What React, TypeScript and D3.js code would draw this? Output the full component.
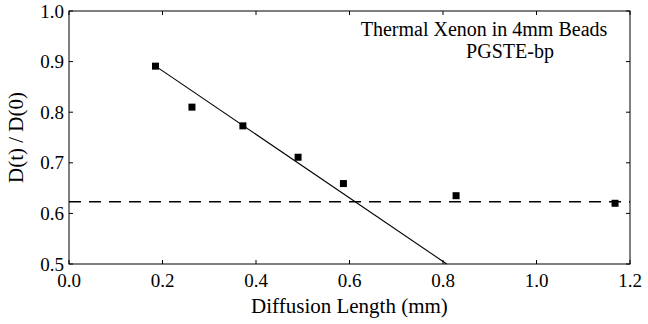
import React from "react";
import * as d3 from "d3";

const xValues = [0.185, 0.263, 0.372, 0.49, 0.587, 0.828, 1.168];
const yValues = [0.891, 0.81, 0.773, 0.711, 0.659, 0.635, 0.62];
const fitLine = [
  { x: 0.182, y: 0.893 },
  { x: 0.808, y: 0.5 },
];
const plateau = 0.623;
const xTicks = [0, 0.2, 0.4, 0.6, 0.8, 1.0, 1.2];
const yTicks = [0.5, 0.6, 0.7, 0.8, 0.9, 1.0];
const titleLines = ["Thermal Xenon in 4mm Beads", "PGSTE-bp"];

const W = 648;
const H = 324;
const M = { left: 69, right: 18, top: 11, bottom: 60 };
const FONT = "Liberation Serif, Times New Roman, serif";

export default function App() {
  const x = d3.scaleLinear().domain([0, 1.2]).range([M.left, W - M.right]);
  const y = d3.scaleLinear().domain([0.5, 1.0]).range([H - M.bottom, M.top]);
  const line = d3
    .line<{ x: number; y: number }>()
    .x((d) => x(d.x))
    .y((d) => y(d.y));
  const tl = 4;
  const x0 = x(0), x1 = x(1.2), y0 = y(0.5), y1 = y(1.0);
  return (
    <svg
      width={W}
      height={H}
      style={{ position: "absolute", left: 0, top: 0, background: "#fff", fontFamily: FONT }}
    >
      <rect x={x0} y={y1} width={x1 - x0} height={y0 - y1} fill="none" stroke="#000" strokeWidth={1} />
      {xTicks.map((t) => (
        <g key={"x" + t}>
          <line x1={x(t)} x2={x(t)} y1={y0} y2={y0 - tl} stroke="#000" />
          <line x1={x(t)} x2={x(t)} y1={y1} y2={y1 + tl} stroke="#000" />
          <text x={x(t)} y={y0 + 23} textAnchor="middle" fontSize={19}>
            {t.toFixed(1)}
          </text>
        </g>
      ))}
      {yTicks.map((t) => (
        <g key={"y" + t}>
          <line x1={x0} x2={x0 + tl} y1={y(t)} y2={y(t)} stroke="#000" />
          <line x1={x1} x2={x1 - tl} y1={y(t)} y2={y(t)} stroke="#000" />
          <text x={x0 - 5} y={y(t)} dy="0.35em" textAnchor="end" fontSize={19}>
            {t.toFixed(1)}
          </text>
        </g>
      ))}
      <line
        x1={x(0)}
        x2={x(1.2)}
        y1={y(plateau)}
        y2={y(plateau)}
        stroke="#000"
        strokeWidth={1.6}
        strokeDasharray="12 8"
      />
      <path d={line(fitLine) || ""} fill="none" stroke="#000" strokeWidth={1.1} />
      {xValues.map((v, i) => (
        <rect key={i} x={x(v) - 3.5} y={y(yValues[i]) - 3.5} width={7} height={7} fill="#000" />
      ))}
      <text x={484} y={36} textAnchor="middle" fontSize={20}>
        {titleLines[0]}
      </text>
      <text x={510} y={58} textAnchor="middle" fontSize={20}>
        {titleLines[1]}
      </text>
      <text x={(x0 + x1) / 2} y={313} textAnchor="middle" fontSize={21}>
        Diffusion Length (mm)
      </text>
      <text
        transform={`translate(23, ${(y0 + y1) / 2}) rotate(-90)`}
        textAnchor="middle"
        fontSize={21}
      >
        D(t) / D(0)
      </text>
    </svg>
  );
}
